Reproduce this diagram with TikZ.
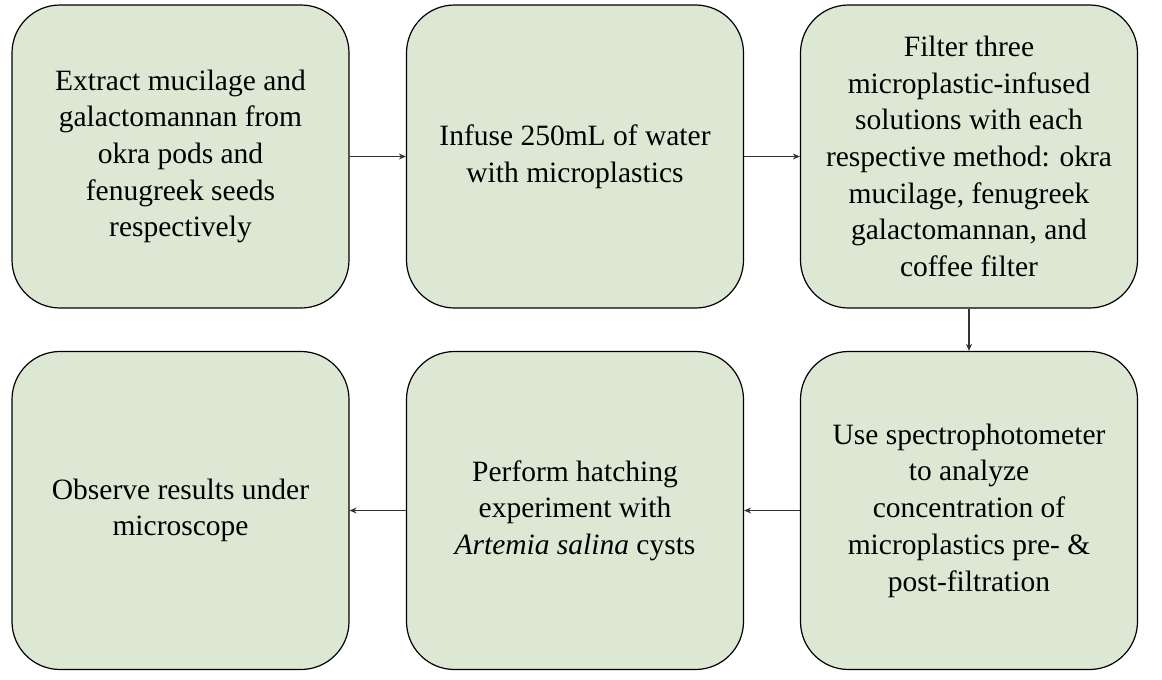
\documentclass[tikz,border=0pt]{standalone}
\usepackage{fontspec}
\setmainfont{Liberation Serif}
\usetikzlibrary{arrows.meta}
\definecolor{boxfill}{HTML}{DCE8D4}
\definecolor{arrowgray}{HTML}{333333}
\tikzset{
  stepbox/.style={draw=black, line width=1.2pt, fill=boxfill, rounded corners=48pt,
    minimum width=337pt, align=center, inner sep=0pt,
    font=\fontsize{29.5pt}{36.7pt}\selectfont},
  flow/.style={draw=arrowgray, line width=1.5pt, -{Stealth[length=7pt,width=6pt]}}
}
\begin{document}
\begin{tikzpicture}[x=1pt,y=1pt]
\useasboundingbox (0,0) rectangle (1162,-680);
\node[stepbox, minimum height=303pt] (a) at (180.5,-156.5) {Extract mucilage and\\galactomannan from\\okra pods and\\fenugreek seeds\\respectively};
\node[stepbox, minimum height=303pt] (b) at (575,-156.5) {Infuse 250mL of water\\with microplastics};
\node[stepbox, minimum height=303pt] (c) at (969,-156.5) {Filter three\\microplastic-infused\\solutions with each\\respective method: okra\\mucilage, fenugreek\\galactomannan, and\\coffee filter};
\node[stepbox, minimum height=318pt] (f) at (969,-510.5) {Use spectrophotometer\\to analyze\\concentration of\\microplastics pre- \&\\post-filtration};
\node[stepbox, minimum height=318pt] (e) at (575,-510.5) {Perform hatching\\experiment with\\\textit{Artemia salina} cysts};
\node[stepbox, minimum height=318pt] (d) at (180.5,-510.5) {Observe results under\\microscope};
\draw[flow] (a) -- (b);
\draw[flow] (b) -- (c);
\draw[flow] (c) -- (f);
\draw[flow] (f) -- (e);
\draw[flow] (e) -- (d);
\end{tikzpicture}
\end{document}
